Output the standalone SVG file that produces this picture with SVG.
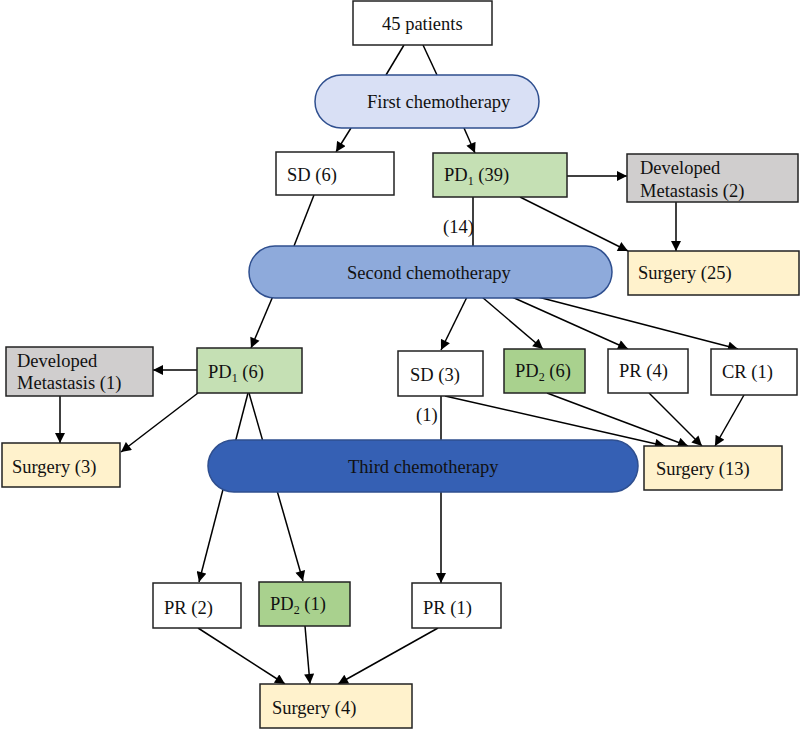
<svg xmlns="http://www.w3.org/2000/svg" width="800" height="729" viewBox="0 0 800 729">
<defs>
<marker id="ah" viewBox="0 0 10 10" refX="10" refY="5" markerWidth="11" markerHeight="10" markerUnits="userSpaceOnUse" orient="auto">
<path d="M0,0 L10,5 L0,10 z" fill="#000"/>
</marker>
<style>
text{font-family:"Liberation Serif","Times New Roman",serif;font-size:18.5px;fill:#111}
.sub{font-size:12px}
.box{stroke:#222;stroke-width:1.5}
.w{fill:#fff}
.lg{fill:#c5e0b4}
.dg{fill:#a9d18e}
.gr{fill:#d0cece}
.sy{fill:#fff2cc}
.c{stroke:#000;stroke-width:1.5;fill:none}
.a{stroke:#000;stroke-width:1.5;fill:none;marker-end:url(#ah)}
</style>
</defs>
<rect width="800" height="729" fill="#fff"/>
<g id="connectors">
<line class="c" x1="404" y1="45" x2="386" y2="75"/>
<line class="c" x1="423" y1="45" x2="437" y2="75"/>
<line class="a" x1="351" y1="128" x2="336" y2="152"/>
<line class="a" x1="464" y1="128" x2="475" y2="153"/>
<line class="a" x1="567" y1="176" x2="627" y2="176"/>
<line class="a" x1="676" y1="202" x2="676" y2="251"/>
<line class="a" x1="520" y1="197" x2="628" y2="251"/>
<line class="c" x1="473" y1="197" x2="473" y2="246"/>
<line class="c" x1="314" y1="195" x2="294" y2="246"/>
<line class="a" x1="273" y1="296" x2="251" y2="348"/>
<line class="a" x1="197" y1="370" x2="153" y2="370"/>
<line class="a" x1="60" y1="396" x2="60" y2="443"/>
<line class="a" x1="198" y1="393" x2="121" y2="452"/>
<line class="a" x1="248" y1="393" x2="199" y2="582"/>
<line class="a" x1="249" y1="393" x2="303" y2="581"/>
<line class="a" x1="467" y1="297" x2="441" y2="350"/>
<line class="a" x1="482" y1="297" x2="543" y2="349"/>
<line class="a" x1="512" y1="297" x2="628" y2="349"/>
<line class="a" x1="538" y1="297" x2="738" y2="349"/>
<line class="a" x1="445" y1="396" x2="665" y2="446"/>
<line class="a" x1="547" y1="393" x2="688" y2="446"/>
<line class="a" x1="649" y1="393" x2="702" y2="446"/>
<line class="a" x1="744" y1="395" x2="715" y2="446"/>
<line class="a" x1="441" y1="396" x2="441" y2="583"/>
<line class="a" x1="198" y1="628" x2="285" y2="684"/>
<line class="a" x1="305" y1="626" x2="310" y2="684"/>
<line class="a" x1="438" y1="628" x2="338" y2="684"/>
<text x="443" y="233">(14)</text>
<text x="416" y="421">(1)</text>
</g>
<g id="n45">
<rect class="box w" x="353" y="1" width="139" height="44"/>
<text x="382" y="30">45 patients</text>
</g>
<g id="chemo1">
<rect x="315" y="75" width="224" height="53" rx="26.5" fill="#d9e0f5" stroke="#2f4f8f" stroke-width="1.5"/>
<text x="367" y="108">First chemotherapy</text>
</g>
<g id="sd6">
<rect class="box w" x="276" y="152" width="118" height="43"/>
<text x="287" y="181">SD (6)</text>
</g>
<g id="pd39">
<rect class="box lg" x="433" y="153" width="134" height="44"/>
<text x="444" y="181">PD<tspan class="sub" dy="4">1</tspan><tspan dy="-4"> (39)</tspan></text>
</g>
<g id="dm2">
<rect class="box gr" x="627" y="154" width="171" height="48"/>
<text x="640" y="174">Developed</text>
<text x="640" y="197">Metastasis (2)</text>
</g>
<g id="s25">
<rect class="box sy" x="628" y="251" width="171" height="44"/>
<text x="638" y="279">Surgery (25)</text>
</g>
<g id="chemo2">
<rect x="249" y="246" width="363" height="52" rx="26" fill="#8eaadb" stroke="#2f4f8f" stroke-width="1.5"/>
<text x="347" y="279">Second chemotherapy</text>
</g>
<g id="pd6">
<rect class="box lg" x="197" y="348" width="105" height="45"/>
<text x="208" y="378">PD<tspan class="sub" dy="4">1</tspan><tspan dy="-4"> (6)</tspan></text>
</g>
<g id="dm1">
<rect class="box gr" x="6" y="347" width="147" height="49"/>
<text x="17" y="367">Developed</text>
<text x="17" y="389">Metastasis (1)</text>
</g>
<g id="s3">
<rect class="box sy" x="2" y="443" width="118" height="44"/>
<text x="12" y="473">Surgery (3)</text>
</g>
<g id="sd3">
<rect class="box w" x="398" y="351" width="85" height="45"/>
<text x="410" y="381">SD (3)</text>
</g>
<g id="pd2_6">
<rect class="box dg" x="504" y="349" width="81" height="44"/>
<text x="515" y="377">PD<tspan class="sub" dy="4">2</tspan><tspan dy="-4"> (6)</tspan></text>
</g>
<g id="pr4">
<rect class="box w" x="608" y="349" width="80" height="44"/>
<text x="619" y="377">PR (4)</text>
</g>
<g id="cr1">
<rect class="box w" x="711" y="349" width="86" height="46"/>
<text x="722" y="378">CR (1)</text>
</g>
<g id="chemo3">
<rect x="208" y="440" width="430" height="52" rx="26" fill="#3560b4" stroke="#2f4f8f" stroke-width="1.5"/>
<text x="348" y="473">Third chemotherapy</text>
</g>
<g id="s13">
<rect class="box sy" x="644" y="446" width="138" height="44"/>
<text x="656" y="475">Surgery (13)</text>
</g>
<g id="pr2">
<rect class="box w" x="153" y="583" width="88" height="45"/>
<text x="164" y="614">PR (2)</text>
</g>
<g id="pd2_1">
<rect class="box dg" x="259" y="582" width="91" height="44"/>
<text x="270" y="610">PD<tspan class="sub" dy="4">2</tspan><tspan dy="-4"> (1)</tspan></text>
</g>
<g id="pr1">
<rect class="box w" x="412" y="583" width="89" height="45"/>
<text x="423" y="614">PR (1)</text>
</g>
<g id="s4">
<rect class="box sy" x="260" y="684" width="152" height="44"/>
<text x="272" y="714">Surgery (4)</text>
</g>
</svg>
